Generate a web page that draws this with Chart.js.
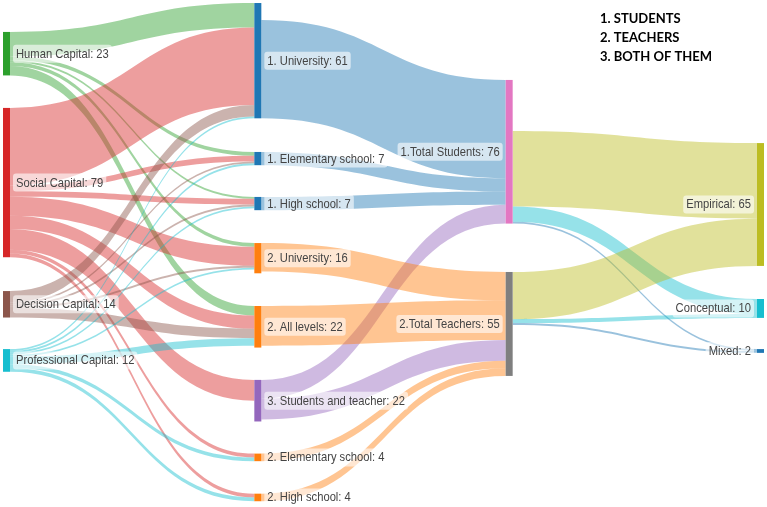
<!DOCTYPE html>
<html><head><meta charset="utf-8">
<script src="https://cdn.jsdelivr.net/npm/chart.js@4.4.1/dist/chart.umd.min.js"></script>
<style>html,body{margin:0;padding:0;background:#fff}#wrap{position:relative;width:767px;height:507px}</style>
</head><body><div id="wrap"><canvas id="c" width="767" height="507"></canvas></div>
<script>
// ---- data ----
const nodeNames = ['Human Capital','Social Capital','Decision Capital','Professional Capital',
  '1. University','1. Elementary school','1. High school','2. University','2. All levels',
  '3. Students and teacher','2. Elementary school','2. High school',
  '1.Total Students','2.Total Teachers','Empirical','Conceptual','Mixed'];
const nodeValues = [23,79,14,12, 61,7,7,16,22,22,4,4, 76,55, 65,10,2];
const nodeColumns = [0,0,0,0, 1,1,1,1,1,1,1,1, 2,2, 3,3,3];
const linkSources = [0,0,0,0,0, 1,1,1,1,1,1,1,1, 2,2,2,2,2, 3,3,3,3,3,3,3,
  4,5,6,9, 7,8,9,10,11, 12,12,12, 13,13,13];
const linkTargets = [4,5,6,7,8, 4,5,6,7,8,9,10,11, 4,5,6,7,8, 4,5,6,7,8,10,11,
  12,12,12,12, 13,13,13,13,13, 14,15,16, 14,15,16];
const linkValues = [13,2,1,2,5, 41,3,3,10,7,11,2,2, 6,1,1,1,5, 1,1,1,1,4,2,2,
  52,7,7,10, 15,21,11,4,4, 40,8,1, 25,2,1];
const legendLines = ['1. STUDENTS','2. TEACHERS','3. BOTH OF THEM'];

// ---- layout / style ----
const nodeTops = [16.9,57.1,154,184.7, 1.6,80.4,104.2,128.6,161.9,201,240,261.2, 42.3,143.9, 75.7,158.2,184.7];
const outAlign = ['t','t','t','t', 'b','t','t','t','t','t','t','t', 'b','t', 't','t','t'];
const nodeColors = ['#2ca02c','#d62728','#8c564b','#17becf',
  '#1f77b4','#1f77b4','#1f77b4','#ff7f0e','#ff7f0e','#9467bd','#ff7f0e','#ff7f0e',
  '#e377c2','#7f7f7f','#bcbd22','#17becf','#1f77b4'];
const NODE_W = 7;
const TEXT_SX = 0.89;

function rgba(hex,a){const n=parseInt(hex.slice(1),16);return `rgba(${n>>16&255},${n>>8&255},${n&255},${a})`;}

const sankeyPlugin = {
  id:'sankey',
  afterDatasetsDraw(chart){
    const ctx=chart.ctx, xs=chart.scales.x, ys=chart.scales.y;
    const N=nodeNames.length;
    const nx=i=>xs.getPixelForValue(nodeColumns[i]);
    const ny=v=>ys.getPixelForValue(v);
    const center=i=>nodeTops[i]+nodeValues[i]/2;
    const L=linkValues.length;
    const sOff=new Array(L), tOff=new Array(L);
    for(let i=0;i<N;i++){
      const outs=[],ins=[];
      for(let k=0;k<L;k++){if(linkSources[k]===i)outs.push(k);if(linkTargets[k]===i)ins.push(k);}
      outs.sort((a,b)=>center(linkTargets[a])-center(linkTargets[b]));
      ins.sort((a,b)=>center(linkSources[a])-center(linkSources[b]));
      const sumOut=outs.reduce((s,k)=>s+linkValues[k],0);
      let y=nodeTops[i]+(outAlign[i]==='b'?nodeValues[i]-sumOut:0);
      outs.forEach(k=>{sOff[k]=y;y+=linkValues[k];});
      y=nodeTops[i];
      ins.forEach(k=>{tOff[k]=y;y+=linkValues[k];});
    }
    for(let k=0;k<L;k++){
      const s=linkSources[k], t=linkTargets[k];
      const x0=nx(s)+NODE_W, x1=nx(t), xm=(x0+x1)/2;
      const a0=ny(sOff[k]), b0=ny(sOff[k]+linkValues[k]);
      const a1=ny(tOff[k]), b1=ny(tOff[k]+linkValues[k]);
      const col=nodeColumns[s]===2?nodeColors[t]:nodeColors[s];
      ctx.beginPath();
      ctx.moveTo(x0,a0);
      ctx.bezierCurveTo(xm,a0,xm,a1,x1,a1);
      ctx.lineTo(x1,b1);
      ctx.bezierCurveTo(xm,b1,xm,b0,x0,b0);
      ctx.closePath();
      ctx.fillStyle=rgba(col,0.45);
      ctx.fill();
    }
    for(let i=0;i<N;i++){
      const y0=ny(nodeTops[i]), y1=ny(nodeTops[i]+nodeValues[i]);
      ctx.fillStyle=nodeColors[i];
      ctx.fillRect(nx(i),y0,NODE_W,Math.max(2,y1-y0));
    }
    ctx.font='12.6px "Liberation Sans", Arial, sans-serif';
    ctx.textBaseline='middle';
    ctx.textAlign='left';
    for(let i=0;i<N;i++){
      const txt=nodeNames[i]+': '+nodeValues[i];
      const cy=ny(center(i));
      const w=ctx.measureText(txt).width*TEXT_SX;
      const left=nodeColumns[i]>=2;
      const tx=left?nx(i)-6-w:nx(i)+NODE_W+6;
      ctx.fillStyle='rgba(255,255,255,0.6)';
      ctx.beginPath();
      ctx.roundRect(tx-3,cy-9,w+6,18,3);
      ctx.fill();
      ctx.save();
      ctx.translate(tx,cy+0.5);
      ctx.scale(TEXT_SX,1);
      ctx.fillStyle='#444';
      ctx.fillText(txt,0,0);
      ctx.restore();
    }
    ctx.font='bold 13px Lato, "Open Sans", sans-serif';
    ctx.fillStyle='#000';
    legendLines.forEach((s,j)=>ctx.fillText(s,600,19+j*19));
  }
};

new Chart(document.getElementById('c'),{
  type:'scatter',
  data:{datasets:[{data:[]}]},
  options:{
    responsive:false, animation:false,
    layout:{padding:{left:3,right:10,top:0,bottom:0}},
    plugins:{legend:{display:false},tooltip:{enabled:false}},
    scales:{
      x:{type:'linear',min:0,max:3,display:false},
      y:{type:'linear',min:0,max:268.25,reverse:true,display:false}
    }
  },
  plugins:[sankeyPlugin]
});
</script></body></html>
